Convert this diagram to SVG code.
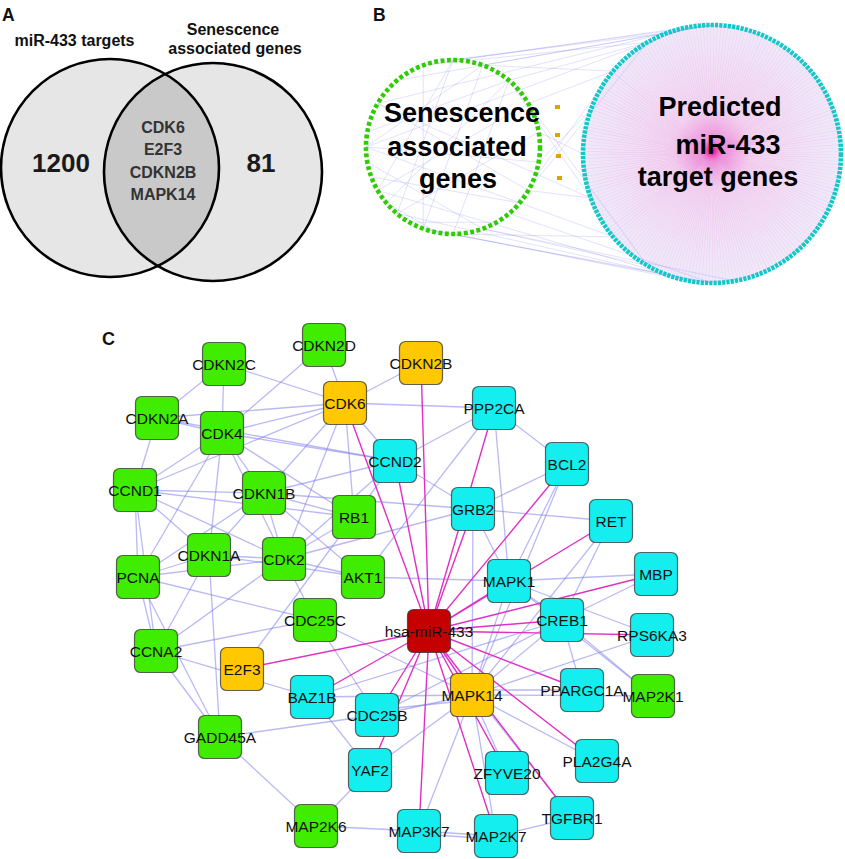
<svg xmlns="http://www.w3.org/2000/svg" width="845" height="859" viewBox="0 0 845 859">
<style>
.hd{font-family:"Liberation Sans",Arial,sans-serif;font-weight:bold;fill:#111}
.panel{font-size:17.5px}
.vhead{font-size:16px;text-anchor:middle}
.lens{font-size:16px;text-anchor:middle;fill:#333}
.num{font-size:26px;text-anchor:middle;fill:#1a1a1a}
.big{font-size:27px;text-anchor:middle;fill:#000}
.lbl{font-family:"Liberation Sans",Arial,sans-serif;font-size:15.5px;text-anchor:middle;fill:#111}
.g rect{fill:#40ec00}
.c rect{fill:#14eeee}
.o rect{fill:#ffc800}
.r rect{fill:#c40000}
.node rect{stroke:#333;stroke-opacity:0.75;stroke-width:1.2}
#edges-blue line{stroke:#8080ec;stroke-opacity:0.55;stroke-width:1.3}
#edges-mag line{stroke:#e030c4;stroke-width:1.4}
#b-lines line{stroke:#7a7aee;stroke-opacity:0.28;stroke-width:0.8}
</style>
<defs>
<clipPath id="clipL"><circle cx="110" cy="168" r="109"/></clipPath>
<radialGradient id="pinkfill" cx="0.5" cy="0.48" r="0.5">
<stop offset="0" stop-color="#e84cc4"/>
<stop offset="0.06" stop-color="#f09ade"/>
<stop offset="0.3" stop-color="#f3d6f1"/>
<stop offset="1" stop-color="#efe9fa"/>
</radialGradient>
<radialGradient id="glow" cx="0.5" cy="0.5" r="0.5">
<stop offset="0" stop-color="#d4005e" stop-opacity="1"/>
<stop offset="0.35" stop-color="#e8209a" stop-opacity="0.6"/>
<stop offset="1" stop-color="#f060c8" stop-opacity="0"/>
</radialGradient>
</defs>
<rect width="845" height="859" fill="#fff"/>

<!-- Panel A -->
<g id="panelA">
<circle cx="110" cy="168" r="109" fill="#e6e6e6"/>
<circle cx="213" cy="172" r="109" fill="#e6e6e6"/>
<circle cx="213" cy="172" r="109" fill="#c9c9c9" clip-path="url(#clipL)"/>
<circle cx="110" cy="168" r="109" fill="none" stroke="#000" stroke-width="2.6"/>
<circle cx="213" cy="172" r="109" fill="none" stroke="#000" stroke-width="2.6"/>
<text class="hd panel" x="2" y="21">A</text>
<text class="hd vhead" x="74.5" y="46">miR-433 targets</text>
<text class="hd vhead" x="233" y="35">Senescence</text>
<text class="hd vhead" x="235" y="54">associated genes</text>
<text class="hd num" x="61" y="172">1200</text>
<text class="hd num" x="261" y="172">81</text>
<text class="hd lens" x="163" y="133">CDK6</text>
<text class="hd lens" x="163" y="155">E2F3</text>
<text class="hd lens" x="163" y="178">CDKN2B</text>
<text class="hd lens" x="163" y="200">MAPK14</text>
</g>

<!-- Panel B -->
<g id="panelB">
<text class="hd panel" x="373" y="21">B</text>
<circle cx="712" cy="154" r="129" fill="url(#pinkfill)"/>
<circle cx="712" cy="154" r="64.5" fill="none" stroke="#e050c4" stroke-opacity="0.2" stroke-width="129" stroke-dasharray="0.35 1.45"/>
<circle cx="712" cy="151" r="12" fill="url(#glow)"/>
<g id="b-lines">
<line x1="423.2" y1="65.2" x2="689.6" y2="26.9"/>
<line x1="453" y1="60" x2="667.9" y2="32.7"/>
<line x1="482.8" y1="65.2" x2="712" y2="25"/>
<line x1="508.9" y1="80.4" x2="647.5" y2="42.3"/>
<line x1="423.2" y1="65.2" x2="647.5" y2="42.3"/>
<line x1="453" y1="60" x2="712" y2="25"/>
<line x1="377.7" y1="103.5" x2="667.9" y2="32.7"/>
<line x1="528.3" y1="103.5" x2="613.2" y2="71.1"/>
<line x1="482.8" y1="65.2" x2="613.2" y2="71.1"/>
<line x1="366" y1="147" x2="689.6" y2="26.9"/>
<line x1="397.1" y1="80.4" x2="712" y2="25"/>
<line x1="453" y1="234" x2="689.6" y2="281"/>
<line x1="423.2" y1="228.8" x2="667.9" y2="275.3"/>
<line x1="482.8" y1="228.8" x2="647.5" y2="265.7"/>
<line x1="508.9" y1="213.6" x2="712" y2="283"/>
<line x1="453" y1="234" x2="613.2" y2="236.9"/>
<line x1="377.7" y1="190.5" x2="689.6" y2="281"/>
<line x1="528.3" y1="190.5" x2="590.8" y2="198.1"/>
<line x1="423.2" y1="228.8" x2="712" y2="283"/>
<line x1="397.1" y1="213.6" x2="667.9" y2="275.3"/>
<line x1="482.8" y1="228.8" x2="734.4" y2="281"/>
<line x1="508.9" y1="80.4" x2="590.8" y2="198.1"/>
<line x1="508.9" y1="213.6" x2="613.2" y2="71.1"/>
<line x1="538.7" y1="131.9" x2="583" y2="154"/>
<line x1="538.7" y1="162.1" x2="590.8" y2="109.9"/>
<line x1="528.3" y1="190.5" x2="647.5" y2="42.3"/>
<line x1="528.3" y1="103.5" x2="647.5" y2="265.7"/>
<line x1="366" y1="147" x2="613.2" y2="236.9"/>
<line x1="377.7" y1="103.5" x2="590.8" y2="198.1"/>
<line x1="377.7" y1="103.5" x2="528.3" y2="190.5"/>
<line x1="366" y1="147" x2="538.7" y2="162.1"/>
<line x1="423.2" y1="65.2" x2="423.2" y2="228.8"/>
<line x1="377.7" y1="190.5" x2="528.3" y2="103.5"/>
<line x1="453" y1="60" x2="377.7" y2="190.5"/>
<line x1="482.8" y1="65.2" x2="366" y2="147"/>
<line x1="453" y1="234" x2="508.9" y2="80.4"/>
<line x1="397.1" y1="213.6" x2="538.7" y2="131.9"/>
<line x1="423.2" y1="228.8" x2="482.8" y2="65.2"/>
<line x1="367.3" y1="162.1" x2="482.8" y2="228.8"/>
<line x1="367.3" y1="131.9" x2="508.9" y2="80.4"/>
<line x1="371.2" y1="176.8" x2="519.6" y2="202.9"/>
<line x1="386.4" y1="202.9" x2="437.9" y2="232.7"/>
<line x1="409.5" y1="222.3" x2="496.5" y2="222.3"/>
<line x1="386.4" y1="202.9" x2="508.9" y2="80.4"/>
<line x1="397.1" y1="213.6" x2="453" y2="60"/>
</g>
<circle cx="453" cy="147" r="87" fill="none" stroke="#2ecc00" stroke-width="4.6" stroke-dasharray="3.9 2.5"/>
<circle cx="712" cy="154" r="129" fill="none" stroke="#10c8c8" stroke-width="4.6" stroke-dasharray="3.2 1.1"/>
<rect x="555" y="105" width="5" height="4" fill="#e0a400"/>
<rect x="555" y="133" width="5" height="4" fill="#e0a400"/>
<rect x="556" y="154" width="5" height="4" fill="#e0a400"/>
<rect x="557" y="176" width="5" height="4" fill="#e0a400"/>
<text class="hd big" x="462" y="122">Senescence</text>
<text class="hd big" x="457" y="156">associated</text>
<text class="hd big" x="458" y="188">genes</text>
<text class="hd big" x="720" y="116">Predicted</text>
<text class="hd big" x="728" y="154">miR-433</text>
<text class="hd big" x="718" y="186">target genes</text>
</g>

<!-- Panel C -->
<text class="hd" style="font-size:18px" x="102" y="345">C</text>
<g id="edges-blue">
<line x1="224" y1="364" x2="345" y2="403"/>
<line x1="224" y1="364" x2="157" y2="418"/>
<line x1="224" y1="364" x2="222" y2="433"/>
<line x1="324" y1="345" x2="345" y2="403"/>
<line x1="324" y1="345" x2="222" y2="433"/>
<line x1="421" y1="363" x2="345" y2="403"/>
<line x1="345" y1="403" x2="494" y2="408"/>
<line x1="157" y1="418" x2="345" y2="403"/>
<line x1="222" y1="433" x2="345" y2="403"/>
<line x1="222" y1="433" x2="395" y2="461"/>
<line x1="157" y1="418" x2="395" y2="461"/>
<line x1="157" y1="418" x2="222" y2="433"/>
<line x1="157" y1="418" x2="135" y2="490"/>
<line x1="135" y1="490" x2="222" y2="433"/>
<line x1="135" y1="490" x2="345" y2="403"/>
<line x1="135" y1="490" x2="264" y2="493"/>
<line x1="135" y1="490" x2="354" y2="517"/>
<line x1="135" y1="490" x2="209" y2="555"/>
<line x1="135" y1="490" x2="284" y2="559"/>
<line x1="135" y1="490" x2="138" y2="577"/>
<line x1="135" y1="490" x2="156" y2="651"/>
<line x1="222" y1="433" x2="264" y2="493"/>
<line x1="222" y1="433" x2="209" y2="555"/>
<line x1="222" y1="433" x2="138" y2="577"/>
<line x1="222" y1="433" x2="354" y2="517"/>
<line x1="222" y1="433" x2="284" y2="559"/>
<line x1="264" y1="493" x2="209" y2="555"/>
<line x1="264" y1="493" x2="284" y2="559"/>
<line x1="264" y1="493" x2="138" y2="577"/>
<line x1="264" y1="493" x2="354" y2="517"/>
<line x1="264" y1="493" x2="345" y2="403"/>
<line x1="264" y1="493" x2="395" y2="461"/>
<line x1="264" y1="493" x2="363" y2="577"/>
<line x1="209" y1="555" x2="284" y2="559"/>
<line x1="209" y1="555" x2="138" y2="577"/>
<line x1="209" y1="555" x2="156" y2="651"/>
<line x1="209" y1="555" x2="220" y2="737"/>
<line x1="284" y1="559" x2="354" y2="517"/>
<line x1="284" y1="559" x2="315" y2="620"/>
<line x1="284" y1="559" x2="395" y2="461"/>
<line x1="156" y1="651" x2="284" y2="559"/>
<line x1="138" y1="577" x2="156" y2="651"/>
<line x1="138" y1="577" x2="315" y2="620"/>
<line x1="138" y1="577" x2="220" y2="737"/>
<line x1="138" y1="577" x2="284" y2="559"/>
<line x1="156" y1="651" x2="312" y2="697"/>
<line x1="156" y1="651" x2="220" y2="737"/>
<line x1="354" y1="517" x2="242" y2="669"/>
<line x1="363" y1="577" x2="209" y2="555"/>
<line x1="363" y1="577" x2="509" y2="581"/>
<line x1="363" y1="577" x2="494" y2="408"/>
<line x1="363" y1="577" x2="284" y2="559"/>
<line x1="315" y1="620" x2="377" y2="715"/>
<line x1="315" y1="620" x2="472" y2="695"/>
<line x1="345" y1="403" x2="354" y2="517"/>
<line x1="345" y1="403" x2="395" y2="461"/>
<line x1="345" y1="403" x2="284" y2="559"/>
<line x1="494" y1="408" x2="395" y2="461"/>
<line x1="494" y1="408" x2="567" y2="464"/>
<line x1="494" y1="408" x2="509" y2="581"/>
<line x1="567" y1="464" x2="473" y2="509"/>
<line x1="567" y1="464" x2="509" y2="581"/>
<line x1="567" y1="464" x2="472" y2="695"/>
<line x1="473" y1="509" x2="611" y2="521"/>
<line x1="473" y1="509" x2="509" y2="581"/>
<line x1="473" y1="509" x2="264" y2="493"/>
<line x1="473" y1="509" x2="284" y2="559"/>
<line x1="473" y1="509" x2="472" y2="695"/>
<line x1="611" y1="521" x2="562" y2="620"/>
<line x1="611" y1="521" x2="472" y2="695"/>
<line x1="656" y1="574" x2="562" y2="620"/>
<line x1="656" y1="574" x2="509" y2="581"/>
<line x1="509" y1="581" x2="562" y2="620"/>
<line x1="509" y1="581" x2="472" y2="695"/>
<line x1="652" y1="635" x2="472" y2="695"/>
<line x1="652" y1="635" x2="509" y2="581"/>
<line x1="653" y1="696" x2="562" y2="620"/>
<line x1="653" y1="696" x2="472" y2="695"/>
<line x1="653" y1="696" x2="509" y2="581"/>
<line x1="582" y1="690" x2="472" y2="690"/>
<line x1="582" y1="690" x2="562" y2="620"/>
<line x1="597" y1="761" x2="472" y2="695"/>
<line x1="572" y1="818" x2="476" y2="695"/>
<line x1="572" y1="818" x2="496" y2="836"/>
<line x1="496" y1="836" x2="419" y2="831"/>
<line x1="496" y1="839" x2="419" y2="834"/>
<line x1="419" y1="831" x2="316" y2="826"/>
<line x1="316" y1="826" x2="370" y2="770"/>
<line x1="316" y1="826" x2="220" y2="737"/>
<line x1="370" y1="770" x2="312" y2="697"/>
<line x1="370" y1="770" x2="472" y2="695"/>
<line x1="496" y1="836" x2="472" y2="695"/>
<line x1="507" y1="773" x2="472" y2="695"/>
<line x1="419" y1="831" x2="472" y2="695"/>
<line x1="377" y1="715" x2="472" y2="695"/>
<line x1="377" y1="710" x2="472" y2="700"/>
<line x1="312" y1="697" x2="472" y2="695"/>
<line x1="377" y1="715" x2="220" y2="737"/>
<line x1="395" y1="461" x2="473" y2="509"/>
<line x1="315" y1="620" x2="156" y2="651"/>
<line x1="354" y1="517" x2="395" y2="461"/>
<line x1="562" y1="620" x2="472" y2="695"/>
<line x1="377" y1="715" x2="562" y2="620"/>
<line x1="312" y1="697" x2="562" y2="620"/>
</g>
<g id="edges-mag">
<line x1="429" y1="631" x2="421" y2="363"/>
<line x1="429" y1="631" x2="345" y2="403"/>
<line x1="429" y1="631" x2="395" y2="461"/>
<line x1="429" y1="631" x2="494" y2="408"/>
<line x1="429" y1="631" x2="473" y2="509"/>
<line x1="429" y1="631" x2="567" y2="464"/>
<line x1="429" y1="631" x2="611" y2="521"/>
<line x1="429" y1="631" x2="509" y2="581"/>
<line x1="429" y1="631" x2="656" y2="574"/>
<line x1="429" y1="631" x2="562" y2="620"/>
<line x1="429" y1="631" x2="652" y2="635"/>
<line x1="429" y1="631" x2="582" y2="690"/>
<line x1="429" y1="631" x2="597" y2="761"/>
<line x1="429" y1="631" x2="572" y2="818"/>
<line x1="429" y1="631" x2="507" y2="773"/>
<line x1="429" y1="631" x2="496" y2="836"/>
<line x1="429" y1="631" x2="419" y2="831"/>
<line x1="429" y1="631" x2="370" y2="770"/>
<line x1="429" y1="631" x2="377" y2="715"/>
<line x1="429" y1="631" x2="312" y2="697"/>
<line x1="429" y1="631" x2="242" y2="669"/>
<line x1="429" y1="631" x2="472" y2="695"/>
</g>

<g id="n-CDKN2D" class="node g"><rect x="302.5" y="323.5" width="43" height="43" rx="6"/><text class="lbl" x="324" y="351">CDKN2D</text></g>
<g id="n-CDKN2C" class="node g"><rect x="202.5" y="342.5" width="43" height="43" rx="6"/><text class="lbl" x="224" y="370">CDKN2C</text></g>
<g id="n-CDKN2A" class="node g"><rect x="135.5" y="396.5" width="43" height="43" rx="6"/><text class="lbl" x="157" y="424">CDKN2A</text></g>
<g id="n-CDK4" class="node g"><rect x="200.5" y="411.5" width="43" height="43" rx="6"/><text class="lbl" x="222" y="439">CDK4</text></g>
<g id="n-CCND1" class="node g"><rect x="113.5" y="468.5" width="43" height="43" rx="6"/><text class="lbl" x="135" y="496">CCND1</text></g>
<g id="n-CDKN1B" class="node g"><rect x="242.5" y="471.5" width="43" height="43" rx="6"/><text class="lbl" x="264" y="499">CDKN1B</text></g>
<g id="n-RB1" class="node g"><rect x="332.5" y="495.5" width="43" height="43" rx="6"/><text class="lbl" x="354" y="523">RB1</text></g>
<g id="n-CDKN1A" class="node g"><rect x="187.5" y="533.5" width="43" height="43" rx="6"/><text class="lbl" x="209" y="561">CDKN1A</text></g>
<g id="n-CDK2" class="node g"><rect x="262.5" y="537.5" width="43" height="43" rx="6"/><text class="lbl" x="284" y="565">CDK2</text></g>
<g id="n-PCNA" class="node g"><rect x="116.5" y="555.5" width="43" height="43" rx="6"/><text class="lbl" x="138" y="583">PCNA</text></g>
<g id="n-AKT1" class="node g"><rect x="341.5" y="555.5" width="43" height="43" rx="6"/><text class="lbl" x="363" y="583">AKT1</text></g>
<g id="n-CDC25C" class="node g"><rect x="293.5" y="598.5" width="43" height="43" rx="6"/><text class="lbl" x="315" y="626">CDC25C</text></g>
<g id="n-CCNA2" class="node g"><rect x="134.5" y="629.5" width="43" height="43" rx="6"/><text class="lbl" x="156" y="657">CCNA2</text></g>
<g id="n-GADD45A" class="node g"><rect x="198.5" y="715.5" width="43" height="43" rx="6"/><text class="lbl" x="220" y="743">GADD45A</text></g>
<g id="n-MAP2K6" class="node g"><rect x="294.5" y="804.5" width="43" height="43" rx="6"/><text class="lbl" x="316" y="832">MAP2K6</text></g>
<g id="n-MAP2K1" class="node g"><rect x="631.5" y="674.5" width="43" height="43" rx="6"/><text class="lbl" x="653" y="702">MAP2K1</text></g>
<g id="n-CDKN2B" class="node o"><rect x="399.5" y="341.5" width="43" height="43" rx="6"/><text class="lbl" x="421" y="369">CDKN2B</text></g>
<g id="n-CDK6" class="node o"><rect x="323.5" y="381.5" width="43" height="43" rx="6"/><text class="lbl" x="345" y="409">CDK6</text></g>
<g id="n-E2F3" class="node o"><rect x="220.5" y="647.5" width="43" height="43" rx="6"/><text class="lbl" x="242" y="675">E2F3</text></g>
<g id="n-MAPK14" class="node o"><rect x="450.5" y="673.5" width="43" height="43" rx="6"/><text class="lbl" x="472" y="701">MAPK14</text></g>
<g id="n-PPP2CA" class="node c"><rect x="472.5" y="386.5" width="43" height="43" rx="6"/><text class="lbl" x="494" y="414">PPP2CA</text></g>
<g id="n-CCND2" class="node c"><rect x="373.5" y="439.5" width="43" height="43" rx="6"/><text class="lbl" x="395" y="467">CCND2</text></g>
<g id="n-BCL2" class="node c"><rect x="545.5" y="442.5" width="43" height="43" rx="6"/><text class="lbl" x="567" y="470">BCL2</text></g>
<g id="n-GRB2" class="node c"><rect x="451.5" y="487.5" width="43" height="43" rx="6"/><text class="lbl" x="473" y="515">GRB2</text></g>
<g id="n-RET" class="node c"><rect x="589.5" y="499.5" width="43" height="43" rx="6"/><text class="lbl" x="611" y="527">RET</text></g>
<g id="n-MAPK1" class="node c"><rect x="487.5" y="559.5" width="43" height="43" rx="6"/><text class="lbl" x="509" y="587">MAPK1</text></g>
<g id="n-MBP" class="node c"><rect x="634.5" y="552.5" width="43" height="43" rx="6"/><text class="lbl" x="656" y="580">MBP</text></g>
<g id="n-CREB1" class="node c"><rect x="540.5" y="598.5" width="43" height="43" rx="6"/><text class="lbl" x="562" y="626">CREB1</text></g>
<g id="n-RPS6KA3" class="node c"><rect x="630.5" y="613.5" width="43" height="43" rx="6"/><text class="lbl" x="652" y="641">RPS6KA3</text></g>
<g id="n-PPARGC1A" class="node c"><rect x="560.5" y="668.5" width="43" height="43" rx="6"/><text class="lbl" x="582" y="696">PPARGC1A</text></g>
<g id="n-BAZ1B" class="node c"><rect x="290.5" y="675.5" width="43" height="43" rx="6"/><text class="lbl" x="312" y="703">BAZ1B</text></g>
<g id="n-CDC25B" class="node c"><rect x="355.5" y="693.5" width="43" height="43" rx="6"/><text class="lbl" x="377" y="721">CDC25B</text></g>
<g id="n-YAF2" class="node c"><rect x="348.5" y="748.5" width="43" height="43" rx="6"/><text class="lbl" x="370" y="776">YAF2</text></g>
<g id="n-ZFYVE20" class="node c"><rect x="485.5" y="751.5" width="43" height="43" rx="6"/><text class="lbl" x="507" y="779">ZFYVE20</text></g>
<g id="n-PLA2G4A" class="node c"><rect x="575.5" y="739.5" width="43" height="43" rx="6"/><text class="lbl" x="597" y="767">PLA2G4A</text></g>
<g id="n-TGFBR1" class="node c"><rect x="550.5" y="796.5" width="43" height="43" rx="6"/><text class="lbl" x="572" y="824">TGFBR1</text></g>
<g id="n-MAP2K7" class="node c"><rect x="474.5" y="814.5" width="43" height="43" rx="6"/><text class="lbl" x="496" y="842">MAP2K7</text></g>
<g id="n-MAP3K7" class="node c"><rect x="397.5" y="809.5" width="43" height="43" rx="6"/><text class="lbl" x="419" y="837">MAP3K7</text></g>
<g id="n-MIR" class="node r"><rect x="407.5" y="609.5" width="43" height="43" rx="6"/><text class="lbl" x="429" y="637">hsa-miR-433</text></g>
</svg>
